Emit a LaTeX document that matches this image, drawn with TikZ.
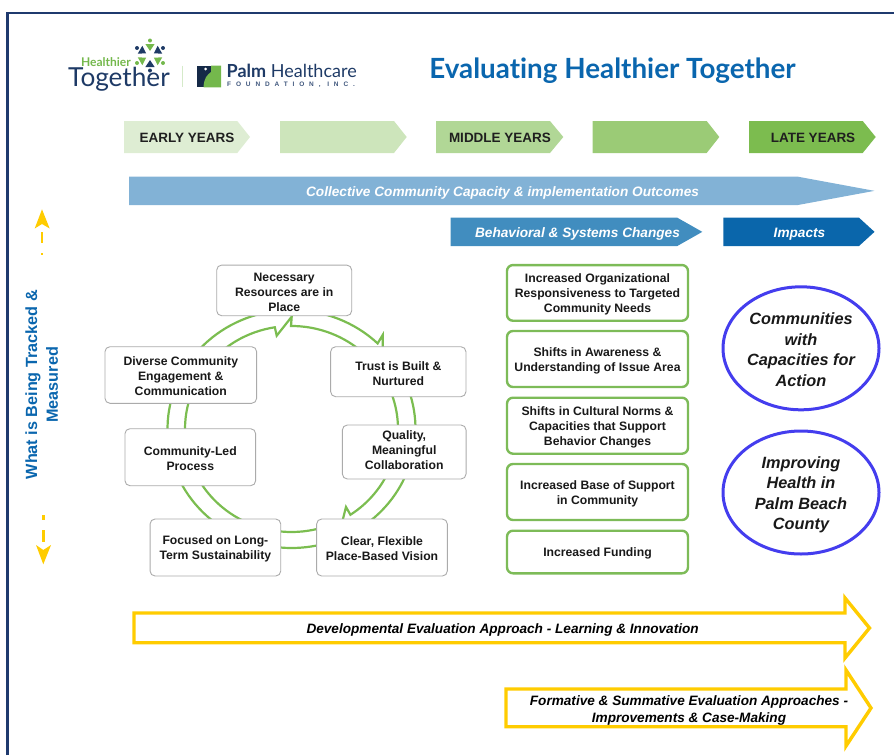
\documentclass[tikz,border=0pt]{standalone}
\usepackage{fontspec}
\usetikzlibrary{shapes.geometric}
\setmainfont{Liberation Sans}
\newfontfamily\titlefont[Ligatures=NoCommon]{Lato}
\newfontfamily\spacedfont[LetterSpace=75]{Liberation Sans}
\definecolor{ringgreen}{HTML}{7BBD50}
\definecolor{boxgreen}{HTML}{7DBB58}
\definecolor{frameblue}{HTML}{1F3A6E}
\definecolor{titleblue}{HTML}{0A66AE}
\definecolor{amber}{HTML}{FFCC00}
\definecolor{violetblue}{HTML}{443DEE}
\definecolor{logonavy}{HTML}{1E3A66}
\definecolor{logogreen}{HTML}{74B84C}
\definecolor{ya}{HTML}{DEEDD3}\definecolor{yb}{HTML}{CDE5BB}\definecolor{yc}{HTML}{B1D796}\definecolor{yd}{HTML}{9BCB76}\definecolor{ye}{HTML}{7CBC4F}
\definecolor{ba}{HTML}{82B2D6}\definecolor{bb}{HTML}{418DBF}\definecolor{bc}{HTML}{0A66AB}
\newcommand{\tp}{\rule{0pt}{12pt}}
\newcommand{\tq}{\rule{0pt}{14.7pt}}
\tikzset{
  graybox/.style={draw=black!33,line width=0.9pt,fill=white,rounded corners=5pt,align=center,inner sep=0pt,
    font=\fontsize{12.2}{15}\bfseries\selectfont,text=black!90},
  greenbox/.style={draw=boxgreen,line width=2.4pt,fill=white,rounded corners=6pt,align=center,inner sep=0pt,
    minimum width=181pt,font=\fontsize{12.2}{15}\bfseries\selectfont,text=black!90},
  impact/.style={ellipse,draw=violetblue,line width=3pt,fill=white,align=center,inner sep=0pt,
    minimum width=156pt,minimum height=123pt,font=\fontsize{16.3}{20.5}\bfseries\itshape\selectfont,text=black!90},
  yearlabel/.style={inner sep=0pt,font=\fontsize{13.5}{16}\bfseries\selectfont,text=black!88},
  banner/.style={inner sep=0pt,font=\fontsize{13.65}{16}\bfseries\itshape\selectfont,text=white},
  evallabel/.style={inner sep=0pt,align=center,font=\fontsize{13.6}{17}\bfseries\itshape\selectfont,text=black},
  sidelabel/.style={inner sep=0pt,rotate=90,font=\fontsize{16.2}{18}\bfseries\selectfont,text=titleblue},
  ringline/.style={draw=ringgreen,line width=2.2pt,line join=miter,miter limit=10},
  yellowarrow/.style={draw=amber,line width=3.4pt,fill=white,line join=miter,miter limit=10},
  dashbar/.style={draw=amber,line width=2.6pt}
}
\newcommand{\penta}[6]{\fill[#6] (#1,#4) -- (#2,#4) -- (#3,{(#4+#5)/2}) -- (#2,#5) -- (#1,#5) -- cycle;}
\begin{document}
\begin{tikzpicture}[x=1pt,y=-1pt]
\useasboundingbox (0,0) rectangle (894,755);
% frame
\draw[frameblue,line width=2.4pt] (7.5,755) -- (7.5,13) -- (894,13);
% title
\node[inner sep=0pt,text=titleblue,font=\fontsize{27.8}{30}\titlefont\bfseries\selectfont] (title) at (612.5,71) {Evaluating Healthier Together};
% logo 1
\foreach \a/\c in {-90/logogreen,-30/logonavy,30/logogreen,90/logonavy,150/logogreen,210/logonavy}{
  \fill[\c] ({150+4.5*cos(\a)},{55.5+4.5*sin(\a)})
    -- ({150+11.5*cos(\a)+4.6*cos(\a+90)},{55.5+11.5*sin(\a)+4.6*sin(\a+90)})
    -- ({150+11.5*cos(\a)-4.6*cos(\a+90)},{55.5+11.5*sin(\a)-4.6*sin(\a+90)}) -- cycle;
  \fill[\c] ({150+15*cos(\a)},{55.5+15*sin(\a)}) circle[radius=2];
}
\node[inner sep=0pt,text=logogreen,font=\fontsize{12}{13}\titlefont\bfseries\selectfont] (logoh) at (106,62) {Healthier};
\node[inner sep=0pt,anchor=base west,text=logonavy,font=\fontsize{26.2}{28}\titlefont\selectfont] (logot) at (68,86.7) {Together};
\draw[logogreen!30,line width=1pt] (182.3,65.7) -- (182.3,87.3);
% logo 2
\fill[logonavy!70!black] (197,65.7) rectangle (221,87.3);
\fill[logogreen] (211,65.7) -- (221,65.7) -- (221,87.3) -- (203.5,87.3) .. controls (204,78) and (207,75) .. (211,72) -- cycle;
\fill[white] (205.7,69) circle[radius=1.5];
\node[inner sep=0pt,anchor=base west,text=logonavy,font=\fontsize{18}{19}\titlefont\selectfont] (logop) at (226.5,77.3) {\textbf{Palm} Healthcare};
\node[inner sep=0pt,anchor=west,text=logonavy!85,font=\fontsize{6.5}{7}\spacedfont\bfseries\selectfont] (logof) at (227,84.7) {FOUNDATION, INC.};
% year chevrons
\penta{124}{237.3}{250}{121}{153}{ya}
\penta{280}{394}{406.7}{121}{153}{yb}
\penta{436}{550}{563.3}{121}{153}{yc}
\penta{592.7}{706.7}{719.3}{121}{153}{yd}
\penta{749}{862.7}{875.7}{121}{153}{ye}
\node[yearlabel] (early) at (187,138) {EARLY YEARS};
\node[yearlabel] (middle) at (500,138) {MIDDLE YEARS};
\node[yearlabel] (late) at (813,138) {LATE YEARS};
% blue banners
\penta{129}{798}{874.5}{176.7}{205}{ba}
\penta{450.7}{677.3}{702.3}{217.7}{246}{bb}
\penta{723.3}{859}{874.5}{217.7}{246}{bc}
\node[banner] (collective) at (502.5,192.5) {Collective Community Capacity \& implementation Outcomes};
\node[banner] (behav) at (577.5,234) {Behavioral \& Systems Changes};
\node[banner] (impacts) at (799.5,234) {Impacts};
% side label and arrows
\node[sidelabel] (track) at (33,384.7) {What is Being Tracked \&};
\node[sidelabel] (meas) at (52,384.7) {Measured};
\fill[amber] (42,209.3) -- (49.7,228.5) -- (42,224) -- (34.7,228.5) -- cycle;
\draw[dashbar] (42,232) -- (42,243);
\draw[dashbar] (42,253) -- (42,255);
\fill[amber] (43.3,564.3) -- (51,545) -- (43.3,550) -- (36,545) -- cycle;
\draw[dashbar] (43.3,515) -- (43.3,520);
\draw[dashbar] (43.3,530) -- (43.3,542);
% ring
\draw[ringline] plot[domain=100:314,samples=80,variable=\t] ({291.5+124*cos(\t)},{429+119*sin(\t)}) -- (382.7,335) -- (382.7,347);
\draw[ringline] plot[domain=320:460,samples=60,variable=\t] ({291.5+124*cos(\t)},{429+119*sin(\t)});
\draw[ringline] plot[domain=70:261,samples=70,variable=\t] ({291.5+106.5*cos(\t)},{429+103*sin(\t)}) -- (276.7,335.7) -- (291.7,316.7) -- (291,326) -- plot[domain=270:416.4,samples=60,variable=\t] ({291.5+106.5*cos(\t)},{429+103*sin(\t)}) -- (346,507) -- (342.7,520);
% process boxes
\node[graybox,minimum width=135pt,minimum height=50.7pt] (resources) at (284.2,290.4) {\tp Necessary\\Resources are in\\Place};
\node[graybox,minimum width=151.7pt,minimum height=56.6pt] (diverse) at (180.8,375) {\tp Diverse Community\\Engagement \&\\Communication};
\node[graybox,minimum width=135.3pt,minimum height=50pt] (trust) at (398.3,371.7) {\tp Trust is Built \&\\Nurtured};
\node[graybox,minimum width=130.7pt,minimum height=57pt] (led) at (190.3,457.2) {\tp Community-Led\\Process};
\node[graybox,minimum width=123.7pt,minimum height=54pt] (quality) at (404.2,452) {\tp Quality,\\Meaningful\\Collaboration\\[-7pt]\mbox{}};
\node[graybox,minimum width=130.7pt,minimum height=57pt] (focused) at (215.4,547.5) {\tp Focused on Long-\\Term Sustainability};
\node[graybox,minimum width=130.7pt,minimum height=57pt] (clear) at (382,547.5) {\tp Clear, Flexible\\Place-Based Vision};
% outcome boxes
\node[greenbox,minimum height=55.7pt] (o1) at (597.5,292.9) {\tp Increased Organizational\\Responsiveness to Targeted\\Community Needs};
\node[greenbox,minimum height=56pt] (o2) at (597.5,359) {\tp Shifts in Awareness \&\\Understanding of Issue Area};
\node[greenbox,minimum height=56pt] (o3) at (597.5,425.7) {\tp Shifts in Cultural Norms \&\\Capacities that Support\\Behavior Changes};
\node[greenbox,minimum height=56pt] (o4) at (597.5,492) {\tp Increased Base of Support\\in Community};
\node[greenbox,minimum height=42.6pt] (o5) at (597.5,552) {\tp Increased Funding};
% impact ellipses
\node[impact] (e1) at (801,348.3) {\tq Communities\\with\\Capacities for\\Action};
\node[impact] (e2) at (801,492.5) {\rule{0pt}{16.7pt}Improving\\Health in\\Palm Beach\\County};
% yellow arrows
\draw[yellowarrow] (134,613) -- (845,613) -- (845,598) -- (869.5,628) -- (845,658) -- (845,642.7) -- (134,642.7) -- cycle;
\draw[yellowarrow] (506,689) -- (846,689) -- (846,670) -- (871,708) -- (846,746) -- (846,726.7) -- (506,726.7) -- cycle;
\node[evallabel] (dev) at (502.6,630) {Developmental Evaluation Approach - Learning \& Innovation};
\node[evallabel] (form) at (689,710) {Formative \& Summative Evaluation Approaches -\\Improvements \& Case-Making};
\end{tikzpicture}
\end{document}
